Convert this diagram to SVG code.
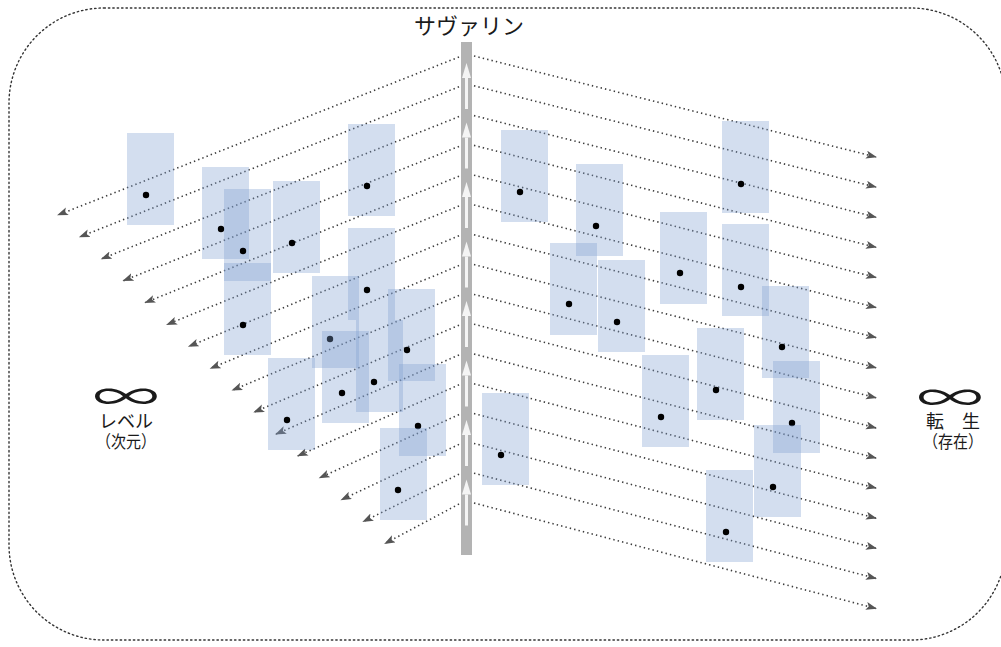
<svg xmlns="http://www.w3.org/2000/svg" width="1001" height="647" viewBox="0 0 1001 647">
<style>
.bg{fill:#ffffff}
.frame{fill:none;stroke:#333;stroke-width:1.4;stroke-dasharray:1.4 3;stroke-linecap:round}
.ln{fill:none;stroke:#3c3c3c;stroke-width:1.6;stroke-dasharray:1.4 3.1}
.box{fill:#7e9ed0;fill-opacity:0.34}
.dot{fill:#000}
.bar{fill:#b3b3b3}
.war{fill:#f4f4f4}
.t{font-family:"Noto Sans CJK JP","Noto Sans",sans-serif;fill:#1a1a1a;text-anchor:middle}
.inf{font-family:"Noto Sans CJK JP",sans-serif;fill:#1a1a1a;text-anchor:middle}
</style>
<defs>
<marker id="ah" markerUnits="userSpaceOnUse" markerWidth="12" markerHeight="9" refX="10" refY="4" orient="auto">
<path d="M0,0 L11,4 L0,8 L2.5,4 z" fill="#555"/>
</marker>
</defs>
<rect class="bg" x="0" y="0" width="1001" height="647"/>
<rect class="frame" x="9" y="8" width="997" height="632" rx="95" ry="95"/>

<g id="connectors">
<g marker-end="url(#ah)">
<line class="ln" x1="459" y1="57" x2="58" y2="215"/>
<line class="ln" x1="459" y1="86.8" x2="79.8" y2="236.9"/>
<line class="ln" x1="459" y1="116.6" x2="101.6" y2="258.8"/>
<line class="ln" x1="459" y1="146.4" x2="123.4" y2="280.7"/>
<line class="ln" x1="459" y1="176.2" x2="145.2" y2="302.6"/>
<line class="ln" x1="459" y1="206" x2="167" y2="324.5"/>
<line class="ln" x1="459" y1="235.8" x2="188.8" y2="346.4"/>
<line class="ln" x1="459" y1="265.6" x2="210.6" y2="368.3"/>
<line class="ln" x1="459" y1="295.4" x2="232.4" y2="390.2"/>
<line class="ln" x1="459" y1="325.2" x2="254.2" y2="412.1"/>
<line class="ln" x1="459" y1="355" x2="276" y2="434"/>
<line class="ln" x1="459" y1="384.8" x2="297.8" y2="455.9"/>
<line class="ln" x1="459" y1="414.6" x2="319.6" y2="477.8"/>
<line class="ln" x1="459" y1="444.4" x2="341.4" y2="499.7"/>
<line class="ln" x1="459" y1="474.2" x2="363.2" y2="521.6"/>
<line class="ln" x1="459" y1="504" x2="385" y2="543.5"/>

<line class="ln" x1="474" y1="56" x2="876" y2="157"/>
<line class="ln" x1="474" y1="85.8" x2="876" y2="187.1"/>
<line class="ln" x1="474" y1="115.6" x2="876" y2="217.2"/>
<line class="ln" x1="474" y1="145.4" x2="876" y2="247.3"/>
<line class="ln" x1="474" y1="175.2" x2="876" y2="277.4"/>
<line class="ln" x1="474" y1="205" x2="876" y2="307.5"/>
<line class="ln" x1="474" y1="234.8" x2="876" y2="337.6"/>
<line class="ln" x1="474" y1="264.6" x2="876" y2="367.7"/>
<line class="ln" x1="474" y1="294.4" x2="876" y2="397.8"/>
<line class="ln" x1="474" y1="324.2" x2="876" y2="427.9"/>
<line class="ln" x1="474" y1="354" x2="876" y2="458"/>
<line class="ln" x1="474" y1="383.8" x2="876" y2="488.1"/>
<line class="ln" x1="474" y1="413.6" x2="876" y2="518.2"/>
<line class="ln" x1="474" y1="443.4" x2="876" y2="548.3"/>
<line class="ln" x1="474" y1="473.2" x2="876" y2="578.4"/>
<line class="ln" x1="474" y1="503" x2="876" y2="608.5"/>
</g>
</g>

<g id="axis">
<rect class="bar" x="461" y="42" width="11" height="513"/>
<g class="war">
<path d="M466.5,63 L471,78 L462,78 z"/><rect x="465" y="78" width="3" height="31"/>
<path d="M466.5,122.5 L471,137.5 L462,137.5 z"/><rect x="465" y="137.5" width="3" height="31"/>
<path d="M466.5,182 L471,197 L462,197 z"/><rect x="465" y="197" width="3" height="31"/>
<path d="M466.5,241.5 L471,256.5 L462,256.5 z"/><rect x="465" y="256.5" width="3" height="31"/>
<path d="M466.5,301 L471,316 L462,316 z"/><rect x="465" y="316" width="3" height="31"/>
<path d="M466.5,360.5 L471,375.5 L462,375.5 z"/><rect x="465" y="375.5" width="3" height="31"/>
<path d="M466.5,420 L471,435 L462,435 z"/><rect x="465" y="435" width="3" height="31"/>
<path d="M466.5,479.5 L471,494.5 L462,494.5 z"/><rect x="465" y="494.5" width="3" height="31"/>
</g>
</g>

<g id="L1"><rect class="box" x="127" y="133" width="47" height="92"/><circle class="dot" cx="146" cy="195" r="3.2"/></g>
<g id="L2"><rect class="box" x="202" y="167" width="47" height="92"/><circle class="dot" cx="221" cy="229" r="3.2"/></g>
<g id="L3"><rect class="box" x="224" y="189" width="47" height="92"/><circle class="dot" cx="243" cy="251" r="3.2"/></g>
<g id="L4"><rect class="box" x="273" y="181" width="47" height="92"/><circle class="dot" cx="292" cy="243" r="3.2"/></g>
<g id="L5"><rect class="box" x="348" y="124" width="47" height="92"/><circle class="dot" cx="367" cy="186" r="3.2"/></g>
<g id="L6"><rect class="box" x="224" y="263" width="47" height="92"/><circle class="dot" cx="243" cy="325" r="3.2"/></g>
<g id="L7"><rect class="box" x="348" y="228" width="47" height="92"/><circle class="dot" cx="367" cy="290" r="3.2"/></g>
<g id="L8"><rect class="box" x="312" y="276" width="47" height="92"/><circle class="dot" cx="330" cy="339" r="3.2"/></g>
<g id="L9"><rect class="box" x="322" y="331" width="47" height="92"/><circle class="dot" cx="342" cy="393" r="3.2"/></g>
<g id="L10"><rect class="box" x="356" y="320" width="47" height="92"/><circle class="dot" cx="374" cy="382" r="3.2"/></g>
<g id="L11"><rect class="box" x="388" y="289" width="47" height="92"/><circle class="dot" cx="407" cy="350" r="3.2"/></g>
<g id="L12"><rect class="box" x="268" y="358" width="47" height="92"/><circle class="dot" cx="287" cy="420" r="3.2"/></g>
<g id="L13"><rect class="box" x="399" y="364" width="47" height="92"/><circle class="dot" cx="418" cy="426" r="3.2"/></g>
<g id="L14"><rect class="box" x="380" y="428" width="47" height="92"/><circle class="dot" cx="398" cy="490" r="3.2"/></g>

<g id="R1"><rect class="box" x="501" y="130" width="47" height="92"/><circle class="dot" cx="520" cy="192" r="3.2"/></g>
<g id="R2"><rect class="box" x="576" y="164" width="47" height="92"/><circle class="dot" cx="596" cy="226" r="3.2"/></g>
<g id="R3"><rect class="box" x="550" y="243" width="47" height="92"/><circle class="dot" cx="569" cy="304" r="3.2"/></g>
<g id="R4"><rect class="box" x="598" y="260" width="47" height="92"/><circle class="dot" cx="617" cy="322" r="3.2"/></g>
<g id="R5"><rect class="box" x="660" y="212" width="47" height="92"/><circle class="dot" cx="680" cy="273" r="3.2"/></g>
<g id="R6"><rect class="box" x="722" y="121" width="47" height="92"/><circle class="dot" cx="741" cy="184" r="3.2"/></g>
<g id="R7"><rect class="box" x="722" y="224" width="47" height="92"/><circle class="dot" cx="741" cy="287" r="3.2"/></g>
<g id="R8"><rect class="box" x="762" y="286" width="47" height="92"/><circle class="dot" cx="782" cy="347" r="3.2"/></g>
<g id="R9"><rect class="box" x="642" y="355" width="47" height="92"/><circle class="dot" cx="661" cy="417" r="3.2"/></g>
<g id="R10"><rect class="box" x="697" y="328" width="47" height="92"/><circle class="dot" cx="716" cy="390" r="3.2"/></g>
<g id="R11"><rect class="box" x="773" y="361" width="47" height="92"/><circle class="dot" cx="792" cy="423" r="3.2"/></g>
<g id="R12"><rect class="box" x="754" y="425" width="47" height="92"/><circle class="dot" cx="773" cy="487" r="3.2"/></g>
<g id="R13"><rect class="box" x="706" y="470" width="47" height="92"/><circle class="dot" cx="726" cy="532" r="3.2"/></g>
<g id="R14"><rect class="box" x="482" y="393" width="47" height="92"/><circle class="dot" cx="501" cy="455" r="3.2"/></g>

<g id="title"><text class="t" x="469" y="34" font-size="22">サヴァリン</text></g>

<g id="left-label">
<text class="inf" x="0" y="0" font-size="38" transform="translate(126,410) scale(1.75,1)">∞</text>
<text class="t" x="126" y="428" font-size="18">レベル</text>
<text class="t" x="126" y="448" font-size="17" textLength="60" lengthAdjust="spacingAndGlyphs">（次元）</text>
</g>
<g id="right-label">
<text class="inf" x="0" y="0" font-size="38" transform="translate(950,411) scale(1.75,1)">∞</text>
<text class="t" x="953" y="428" font-size="18">転　生</text>
<text class="t" x="953" y="448" font-size="17" textLength="60" lengthAdjust="spacingAndGlyphs">（存在）</text>
</g>
</svg>
